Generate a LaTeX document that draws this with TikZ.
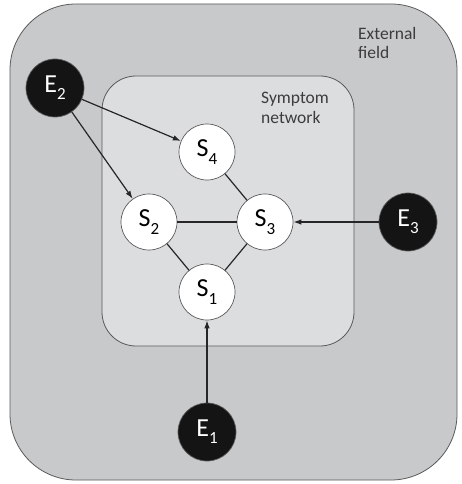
\documentclass[tikz,border=0pt]{standalone}
\usepackage{fontspec}
\setmainfont{Carlito}
\usetikzlibrary{arrows.meta}

\definecolor{fieldgray}{HTML}{C8C9CB}
\definecolor{netgray}{HTML}{DCDDDF}
\definecolor{framegray}{HTML}{5A5A5A}
\definecolor{textgray}{HTML}{3C3C3C}

% subscript as printed in the figure
\newcommand{\idx}[1]{\raisebox{-0.28em}{\fontsize{17}{17}\selectfont #1}}

\begin{document}
\begin{tikzpicture}[x=1pt,y=-1pt,
    sym/.style={circle, draw=framegray, fill=white, minimum size=56pt, inner sep=0pt, line width=0.7pt,
      font=\fontsize{26}{28}\selectfont},
    ext/.style={circle, draw=framegray, fill=black!92, text=white, minimum size=58pt, inner sep=0pt, line width=0.7pt,
      font=\fontsize{26}{28}\selectfont},
    link/.style={draw=black!85, line width=1.2pt},
    infl/.style={link, -{Latex[length=8pt,width=5.5pt]}},
    lbl/.style={anchor=base west, inner sep=0pt, text=textgray, font=\fontsize{17.5}{20}\selectfont}]
  \useasboundingbox (0,0) rectangle (461,484);

  % 1. outer field and inner network boxes
  \draw[framegray, fill=fieldgray, line width=0.8pt, rounded corners=66pt] (10,4) rectangle (457,480);
  \draw[framegray, fill=netgray, line width=0.8pt, rounded corners=34pt] (102,76) rectangle (354,346);

  % 2. box labels
  \node[lbl] (ext1) at (358,40) {External};
  \node[lbl] (ext2) at (358,59) {field};
  \node[lbl] (net1) at (261,104) {Symptom};
  \node[lbl] (net2) at (261,124) {network};

  % 3. symptoms
  \node[sym] (S4) at (207,152) {S\idx{4}};
  \node[sym] (S2) at (149,222) {S\idx{2}};
  \node[sym] (S3) at (265,222) {S\idx{3}};
  \node[sym] (S1) at (207,292) {S\idx{1}};

  % 4. external factors
  \node[ext] (E2) at (55,88) {E\idx{2}};
  \node[ext] (E3) at (408,222) {E\idx{3}};
  \node[ext] (E1) at (207,432) {E\idx{1}};

  % 5. connections
  \draw[link] (S4) -- (S3);
  \draw[link] (S2) -- (S3);
  \draw[link] (S2) -- (S1);
  \draw[link] (S3) -- (S1);
  \draw[infl] (E2) -- (S4);
  \draw[infl] (E2) -- (S2);
  \draw[infl] (E3) -- (S3);
  \draw[infl] (E1) -- (S1);
\end{tikzpicture}
\end{document}
